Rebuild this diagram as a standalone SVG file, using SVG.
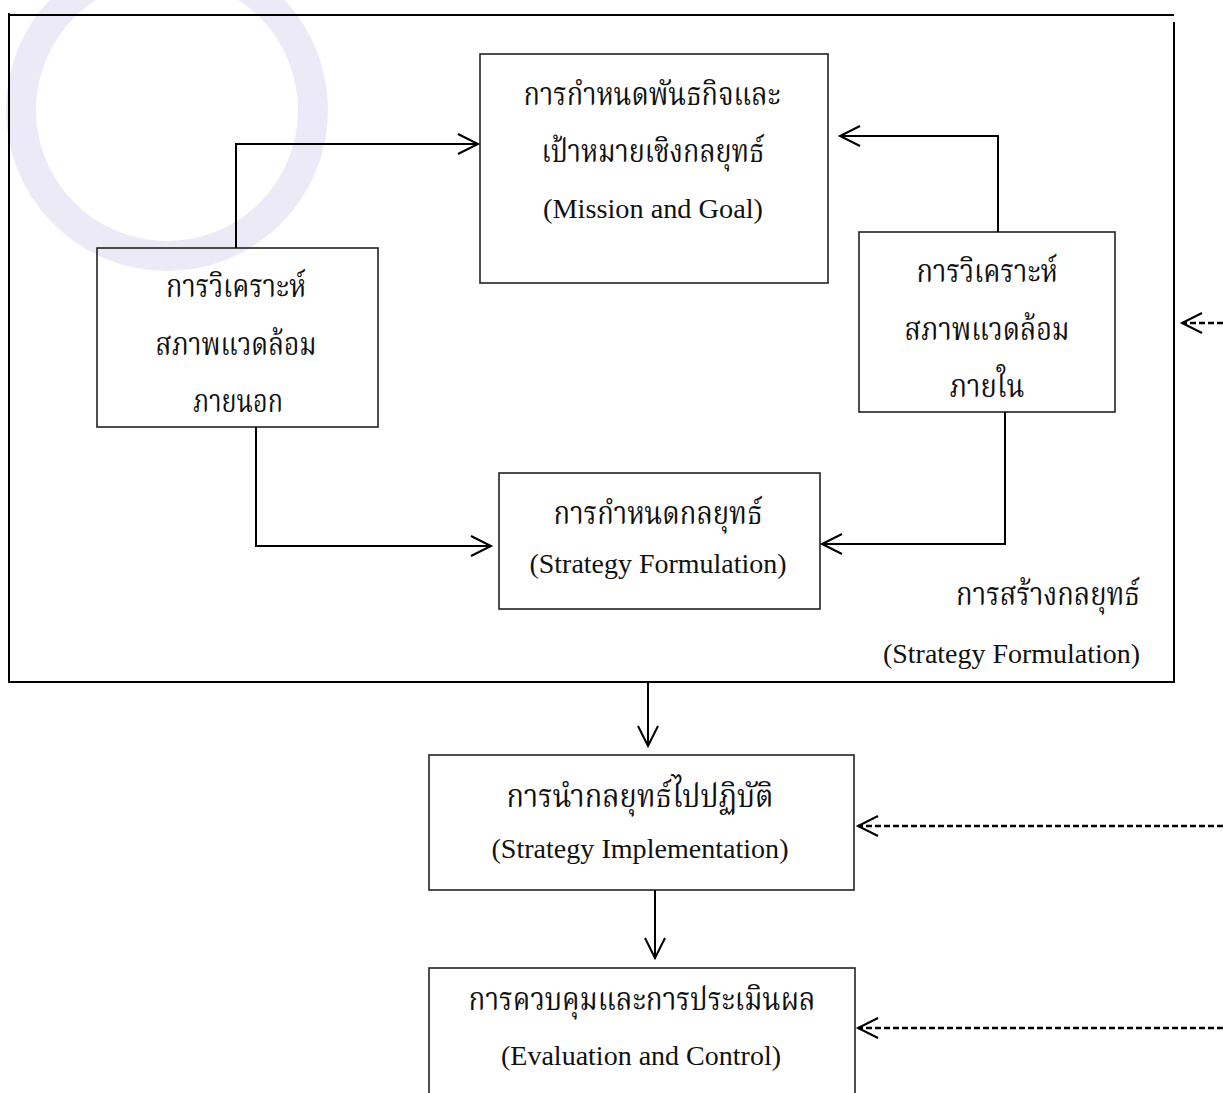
<svg xmlns="http://www.w3.org/2000/svg" width="1223" height="1093" viewBox="0 0 1223 1093">
<style>
.box{fill:none;stroke:#222;stroke-width:1.6}
.frame{stroke:#000;stroke-width:2;fill:none}
.conn{fill:none;stroke:#000;stroke-width:2}
.dash{fill:none;stroke:#000;stroke-width:2.3;stroke-dasharray:6 3}
.th{font-family:"Liberation Serif","Noto Serif Thai","Noto Sans Thai",serif;font-size:32px;fill:#111;text-anchor:middle}
.en{font-family:"Liberation Serif","Times New Roman",serif;font-size:27px;fill:#111;text-anchor:middle}
.wm{fill:none;stroke:#eceaf6}
</style>
<defs>
<marker id="arr" markerUnits="userSpaceOnUse" markerWidth="26" markerHeight="26" viewBox="-23 -13 26 26" refX="0" refY="0" orient="auto">
<path d="M-20,-10 L0,0 L-20,10" fill="none" stroke="#000" stroke-width="2"/>
</marker>
</defs>
<rect width="1223" height="1093" fill="#fff"/>
<g id="watermark">
<circle class="wm" cx="167" cy="110" r="146" stroke-width="30"/>
</g>
<g id="frame">
<line class="frame" x1="8" y1="15" x2="1174" y2="15"/>
<line class="frame" x1="9" y1="13" x2="9" y2="683"/>
<line class="frame" x1="1174" y1="22" x2="1174" y2="683"/>
<line class="frame" x1="8" y1="682" x2="1175" y2="682"/>
<text class="th" x="1140" y="605" style="text-anchor:end" textLength="184" lengthAdjust="spacingAndGlyphs">การสร้างกลยุทธ์</text>
<text class="en" x="1140" y="663" style="text-anchor:end" textLength="257" lengthAdjust="spacingAndGlyphs">(Strategy Formulation)</text>
</g>
<g id="mission">
<rect class="box" x="480" y="54" width="348" height="229"/>
<text class="th" x="652" y="105" textLength="257" lengthAdjust="spacingAndGlyphs">การกำหนดพันธกิจและ</text>
<text class="th" x="653" y="162" textLength="223" lengthAdjust="spacingAndGlyphs">เป้าหมายเชิงกลยุทธ์</text>
<text class="en" x="653" y="218" textLength="220" lengthAdjust="spacingAndGlyphs">(Mission and Goal)</text>
</g>
<g id="external">
<rect class="box" x="97" y="248" width="281" height="179"/>
<text class="th" x="236" y="297" textLength="140" lengthAdjust="spacingAndGlyphs">การวิเคราะห์</text>
<text class="th" x="236" y="355" textLength="161" lengthAdjust="spacingAndGlyphs">สภาพแวดล้อม</text>
<text class="th" x="238" y="412" textLength="90" lengthAdjust="spacingAndGlyphs">ภายนอก</text>
</g>
<g id="internal">
<rect class="box" x="859" y="232" width="256" height="180"/>
<text class="th" x="987" y="282" textLength="141" lengthAdjust="spacingAndGlyphs">การวิเคราะห์</text>
<text class="th" x="987" y="340" textLength="165" lengthAdjust="spacingAndGlyphs">สภาพแวดล้อม</text>
<text class="th" x="987" y="397" textLength="75" lengthAdjust="spacingAndGlyphs">ภายใน</text>
</g>
<g id="strategy">
<rect class="box" x="499" y="473" width="321" height="136"/>
<text class="th" x="658" y="524" textLength="209" lengthAdjust="spacingAndGlyphs">การกำหนดกลยุทธ์</text>
<text class="en" x="658" y="573" textLength="257" lengthAdjust="spacingAndGlyphs">(Strategy Formulation)</text>
</g>
<g id="implementation">
<rect class="box" x="429" y="755" width="425" height="135"/>
<text class="th" x="640" y="807" textLength="267" lengthAdjust="spacingAndGlyphs">การนำกลยุทธ์ไปปฏิบัติ</text>
<text class="en" x="640" y="858" textLength="297" lengthAdjust="spacingAndGlyphs">(Strategy Implementation)</text>
</g>
<g id="evaluation">
<rect class="box" x="429" y="968" width="426" height="140"/>
<text class="th" x="642" y="1010" textLength="347" lengthAdjust="spacingAndGlyphs">การควบคุมและการประเมินผล</text>
<text class="en" x="641" y="1065" textLength="280" lengthAdjust="spacingAndGlyphs">(Evaluation and Control)</text>
</g>
<g id="connectors">
<polyline class="conn" points="236,248 236,144 478,144" marker-end="url(#arr)"/>
<polyline class="conn" points="998,232 998,136 840,136" marker-end="url(#arr)"/>
<polyline class="conn" points="256,427 256,546 491,546" marker-end="url(#arr)"/>
<polyline class="conn" points="1005,412 1005,544 822,544" marker-end="url(#arr)"/>
<line class="conn" x1="648" y1="683" x2="648" y2="746" marker-end="url(#arr)"/>
<line class="conn" x1="655" y1="890" x2="655" y2="958" marker-end="url(#arr)"/>
<line class="dash" x1="1223" y1="323" x2="1182" y2="323" marker-end="url(#arr)"/>
<line class="dash" x1="1223" y1="826" x2="858" y2="826" marker-end="url(#arr)"/>
<line class="dash" x1="1223" y1="1028" x2="858" y2="1028" marker-end="url(#arr)"/>
</g>
</svg>
